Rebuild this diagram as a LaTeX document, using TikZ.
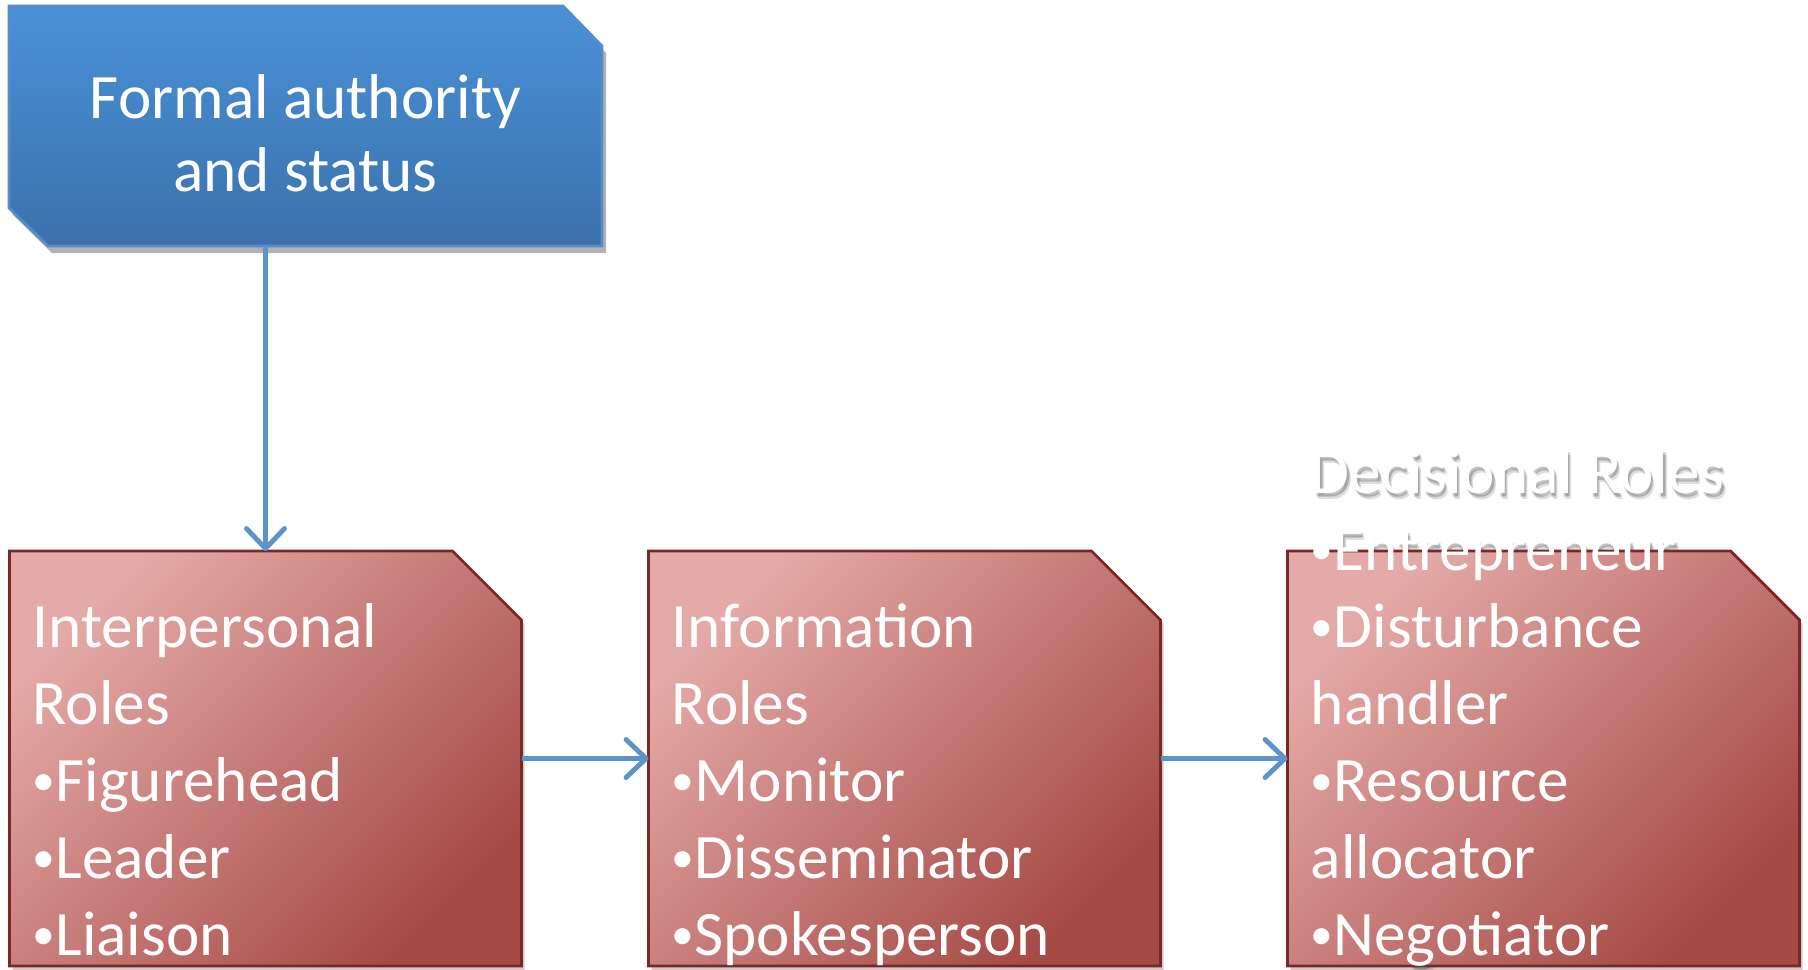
\documentclass[tikz,border=0pt]{standalone}
\usepackage{fontspec}
\setmainfont{Carlito}
\usetikzlibrary{positioning, arrows.meta, shadows, backgrounds}

\definecolor{authtop}{RGB}{74,145,215}
\definecolor{authbottom}{RGB}{59,113,172}
\definecolor{authedge}{RGB}{88,140,200}
\definecolor{rolelight}{RGB}{228,170,167}
\definecolor{roledark}{RGB}{166,74,70}
\definecolor{roleedge}{RGB}{122,40,38}
\definecolor{flowblue}{RGB}{92,148,202}

% small bullet, as in the slide lists
\newcommand{\rolebullet}{\raisebox{0.1em}{\scalebox{0.72}{•}}}

\begin{document}
\begin{tikzpicture}[
    thick,
    node distance=1.27cm,
    authority/.style={rectangle, minimum width=5.93cm, minimum height=2.4cm, inner sep=0pt, outer sep=0pt,
        text=white, align=center, text height=1.31cm, text depth=0pt,
        font=\fontsize{18}{20.8}\selectfont},
    authshape/.style={top color=authtop, bottom color=authbottom, draw=authedge, line width=0.8pt,
        drop shadow={shadow xshift=0.4mm, shadow yshift=-0.7mm, fill=black, opacity=0.3}},
    rolebox/.style={rectangle, minimum width=5.12cm, minimum height=4.15cm, inner sep=0pt, outer sep=0pt},
    roleshape/.style={top color=rolelight, bottom color=roledark, shading angle=45,
        draw=roleedge, line width=0.8pt,
        drop shadow={shadow xshift=0.3mm, shadow yshift=-0.4mm, fill=black, opacity=0.2}},
    roletext/.style={text=white, align=left, inner sep=0pt, text depth=0pt,
        font=\fontsize{18}{21.9}\selectfont},
    textshadow/.style={roletext, text=black, opacity=0.13},
    flow/.style={draw=flowblue, line width=1.4pt, -{Straight Barb[round, length=2mm, width=3.8mm]}}
]
    \useasboundingbox (0,0) rectangle (18.08,9.69);

    % Boxes
    \node[authority] (authority) at (3.055,8.43) {Formal authority\\and status};
    \node[rolebox] (interp) at (2.655,2.105) {};
    \node[rolebox, right=of interp] (info) {};
    \node[rolebox, right=of info] (decis) {};

    \begin{scope}[on background layer]
        % blue box, two corners cut
        \path[authshape] ([xshift=0.39cm]authority.south west) -- ([yshift=0.38cm]authority.south west)
            -- (authority.north west) -- ([xshift=-0.39cm]authority.north east)
            -- ([yshift=-0.4cm]authority.north east) -- (authority.south east) -- cycle;

        % soft shadow of the overflowing list
        \foreach \dx/\dy [count=\i] in {0.02/-0.03, 0.04/-0.05, 0.03/-0.02}
            \node[textshadow, above right={0.09cm+\dy cm} and {0.22cm+\dx cm} of decis.south west] (decisshadow\i)
                {Decisional Roles\\\rolebullet Entrepreneur\\\rolebullet Disturbance\\handler\\\rolebullet Resource\\allocator\\\rolebullet Negotiator};

        % red boxes, top right corner cut
        \foreach \b in {interp, info, decis}
            \path[roleshape] (\b.south west) -- (\b.north west) -- ([xshift=-0.69cm]\b.north east)
                -- ([yshift=-0.69cm]\b.north east) -- (\b.south east) -- cycle;
    \end{scope}

    % Box texts, set from the bottom line up
    \node[roletext, above right=0.09cm and 0.22cm of interp.south west] (interptext)
        {Interpersonal\\Roles\\\rolebullet Figurehead\\\rolebullet Leader\\\rolebullet Liaison};
    \node[roletext, above right=0.09cm and 0.22cm of info.south west] (infotext)
        {Information\\Roles\\\rolebullet Monitor\\\rolebullet Disseminator\\\rolebullet Spokesperson};
    \node[roletext, above right=0.09cm and 0.22cm of decis.south west] (decistext)
        {Decisional Roles\\\rolebullet Entrepreneur\\\rolebullet Disturbance\\handler\\\rolebullet Resource\\allocator\\\rolebullet Negotiator};

    % Arrows
    \draw[flow] (interp.north |- authority.south) -- (interp.north);
    \draw[flow] (interp.east) -- (info.west);
    \draw[flow] (info.east) -- (decis.west);

\end{tikzpicture}
\end{document}
